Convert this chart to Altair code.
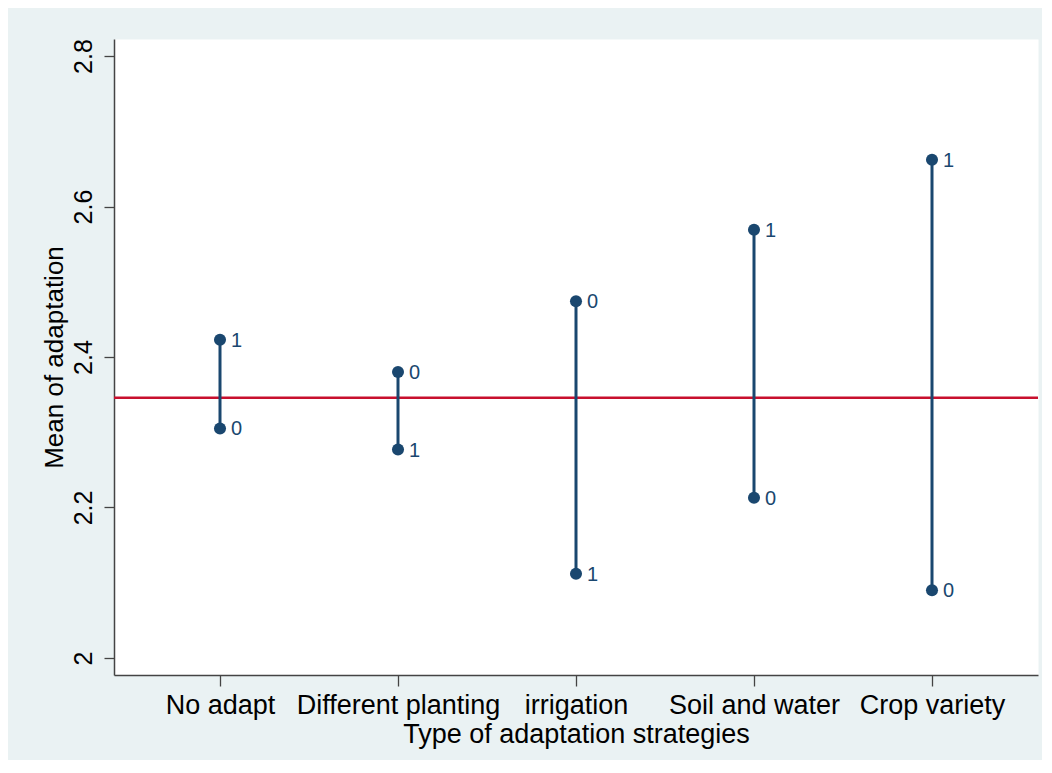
import altair as alt
import pandas as pd

categories = ["No adapt", "Different planting", "irrigation", "Soil and water", "Crop variety"]
values_0 = [2.305, 2.380, 2.474, 2.213, 2.090]
values_1 = [2.423, 2.277, 2.112, 2.569, 2.662]
overall_mean = 2.346
y_ticks = [2.0, 2.2, 2.4, 2.6, 2.8]

NAVY = "#1A476F"
RED = "#C8102E"
BG = "#EAF2F3"
FONT = "Liberation Sans"

wide = pd.DataFrame({"category": categories, "v0": values_0, "v1": values_1})
long = pd.concat([
    pd.DataFrame({"category": categories, "group": "0", "value": values_0}),
    pd.DataFrame({"category": categories, "group": "1", "value": values_1}),
], ignore_index=True)

x_enc = alt.X(
    "category:N",
    sort=categories,
    scale=alt.Scale(type="point", padding=0.5955),
    axis=alt.Axis(
        title="Type of adaptation strategies",
        labelAngle=0,
        labelFontSize=27,
        titleFontSize=27,
        labelPadding=6,
        labelLimit=0,
        titlePadding=3,
        tickSize=11,
        grid=False,
    ),
)
y_scale = alt.Scale(domain=[1.9774, 2.8226], nice=False, zero=False)
y_axis = alt.Axis(
    title="Mean of adaptation",
    values=y_ticks,
    format=".1~f",
    labelAngle=-90,
    labelAlign="center",
    labelBaseline="bottom",
    labelFontSize=25,
    titleFontSize=26,
    labelPadding=8,
    titlePadding=4,
    tickSize=10,
    grid=False,
)

rules = alt.Chart(wide).mark_rule(color=NAVY, strokeWidth=3).encode(
    x=x_enc,
    y=alt.Y("v0:Q", scale=y_scale, axis=y_axis),
    y2="v1:Q",
)

points = alt.Chart(long).mark_circle(color=NAVY, size=145, opacity=1).encode(
    x=alt.X("category:N", sort=categories),
    y=alt.Y("value:Q"),
)

labels = alt.Chart(long).mark_text(
    color=NAVY, fontSize=20, align="left", baseline="middle", dx=11, dy=1, font=FONT
).encode(
    x=alt.X("category:N", sort=categories),
    y=alt.Y("value:Q"),
    text="group:N",
)

mean_line = alt.Chart(pd.DataFrame({"m": [overall_mean]})).mark_rule(
    color=RED, strokeWidth=2.5
).encode(y="m:Q")

chart = alt.layer(mean_line, rules, points, labels).properties(
    width=924,
    height=636,
    autosize=alt.AutoSizeParams(type="none"),
    padding={"left": 106, "top": 31, "right": 4, "bottom": 85},
).configure(
    background=BG,
    font=FONT,
).configure_view(
    fill="white",
    strokeOpacity=0,
).configure_axis(
    domainColor="#444444",
    domainWidth=1.5,
    tickColor="#444444",
    tickWidth=1.3,
    labelColor="black",
    titleColor="black",
    labelFont=FONT,
    titleFont=FONT,
    titleFontWeight="normal",
)

chart.save("out.html", embed_options={"renderer": "svg", "actions": False})
